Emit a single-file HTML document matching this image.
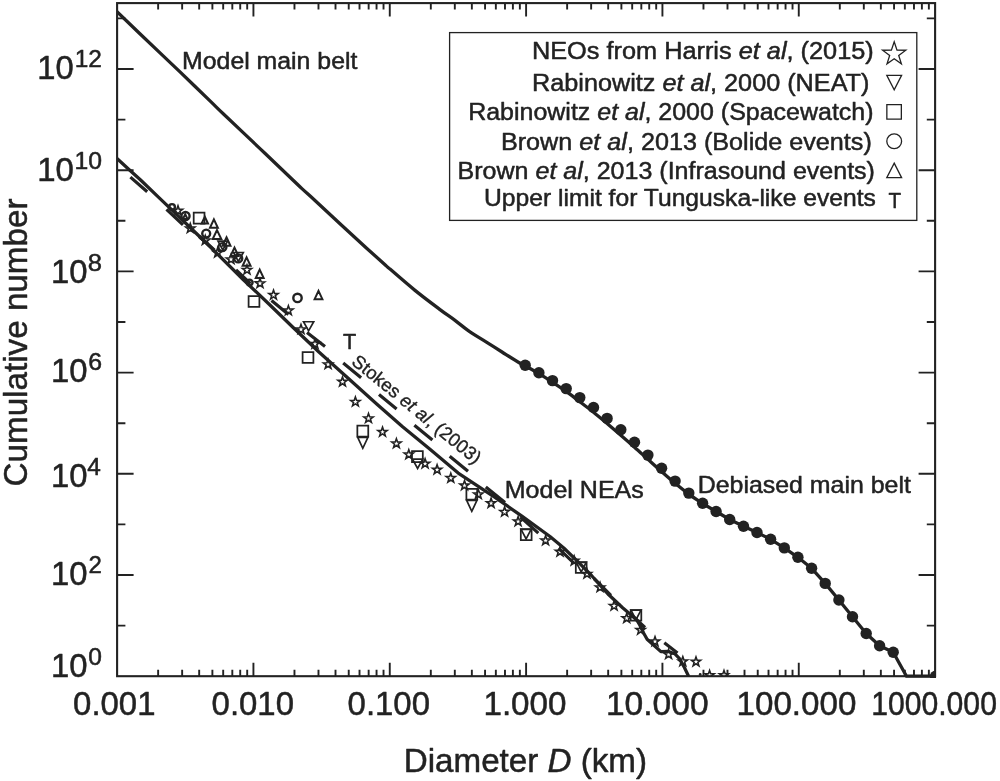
<!DOCTYPE html>
<html><head><meta charset="utf-8"><title>Cumulative number vs diameter</title>
<style>html,body{margin:0;padding:0;background:#fff;}body{width:1000px;height:781px;overflow:hidden;}svg{display:block;will-change:transform;opacity:0.999;}text{font-family:"Liberation Sans",sans-serif;fill:#222222;stroke:#222222;stroke-width:0.5px;stroke-linejoin:round;}.it{font-style:italic;}</style></head><body>
<svg width="1000" height="781" viewBox="0 0 1000 781">
<rect x="0" y="0" width="1000" height="781" fill="#fff"/>
<defs><clipPath id="plot"><rect x="117.10" y="3.10" width="819.00" height="674.80"/></clipPath><clipPath id="plot2"><rect x="117.10" y="3.10" width="818.00" height="674.00"/></clipPath></defs>
<path d="M158.14 676.20L158.14 669.80M158.14 3.10L158.14 9.50M182.15 676.20L182.15 669.80M182.15 3.10L182.15 9.50M199.18 676.20L199.18 669.80M199.18 3.10L199.18 9.50M212.39 676.20L212.39 669.80M212.39 3.10L212.39 9.50M223.19 676.20L223.19 669.80M223.19 3.10L223.19 9.50M232.32 676.20L232.32 669.80M232.32 3.10L232.32 9.50M240.22 676.20L240.22 669.80M240.22 3.10L240.22 9.50M247.20 676.20L247.20 669.80M247.20 3.10L247.20 9.50M253.43 676.20L253.43 662.70M253.43 3.10L253.43 16.60M294.47 676.20L294.47 669.80M294.47 3.10L294.47 9.50M318.48 676.20L318.48 669.80M318.48 3.10L318.48 9.50M335.51 676.20L335.51 669.80M335.51 3.10L335.51 9.50M348.73 676.20L348.73 669.80M348.73 3.10L348.73 9.50M359.52 676.20L359.52 669.80M359.52 3.10L359.52 9.50M368.65 676.20L368.65 669.80M368.65 3.10L368.65 9.50M376.55 676.20L376.55 669.80M376.55 3.10L376.55 9.50M383.53 676.20L383.53 669.80M383.53 3.10L383.53 9.50M389.77 676.20L389.77 662.70M389.77 3.10L389.77 16.60M430.81 676.20L430.81 669.80M430.81 3.10L430.81 9.50M454.81 676.20L454.81 669.80M454.81 3.10L454.81 9.50M471.85 676.20L471.85 669.80M471.85 3.10L471.85 9.50M485.06 676.20L485.06 669.80M485.06 3.10L485.06 9.50M495.85 676.20L495.85 669.80M495.85 3.10L495.85 9.50M504.98 676.20L504.98 669.80M504.98 3.10L504.98 9.50M512.89 676.20L512.89 669.80M512.89 3.10L512.89 9.50M519.86 676.20L519.86 669.80M519.86 3.10L519.86 9.50M526.10 676.20L526.10 662.70M526.10 3.10L526.10 16.60M567.14 676.20L567.14 669.80M567.14 3.10L567.14 9.50M591.15 676.20L591.15 669.80M591.15 3.10L591.15 9.50M608.18 676.20L608.18 669.80M608.18 3.10L608.18 9.50M621.39 676.20L621.39 669.80M621.39 3.10L621.39 9.50M632.19 676.20L632.19 669.80M632.19 3.10L632.19 9.50M641.32 676.20L641.32 669.80M641.32 3.10L641.32 9.50M649.22 676.20L649.22 669.80M649.22 3.10L649.22 9.50M656.20 676.20L656.20 669.80M656.20 3.10L656.20 9.50M662.43 676.20L662.43 662.70M662.43 3.10L662.43 16.60M703.47 676.20L703.47 669.80M703.47 3.10L703.47 9.50M727.48 676.20L727.48 669.80M727.48 3.10L727.48 9.50M744.51 676.20L744.51 669.80M744.51 3.10L744.51 9.50M757.73 676.20L757.73 669.80M757.73 3.10L757.73 9.50M768.52 676.20L768.52 669.80M768.52 3.10L768.52 9.50M777.65 676.20L777.65 669.80M777.65 3.10L777.65 9.50M785.55 676.20L785.55 669.80M785.55 3.10L785.55 9.50M792.53 676.20L792.53 669.80M792.53 3.10L792.53 9.50M798.77 676.20L798.77 662.70M798.77 3.10L798.77 16.60M839.81 676.20L839.81 669.80M839.81 3.10L839.81 9.50M863.81 676.20L863.81 669.80M863.81 3.10L863.81 9.50M880.85 676.20L880.85 669.80M880.85 3.10L880.85 9.50M894.06 676.20L894.06 669.80M894.06 3.10L894.06 9.50M904.85 676.20L904.85 669.80M904.85 3.10L904.85 9.50M913.98 676.20L913.98 669.80M913.98 3.10L913.98 9.50M921.89 676.20L921.89 669.80M921.89 3.10L921.89 9.50M928.86 676.20L928.86 669.80M928.86 3.10L928.86 9.50M117.10 625.60L125.40 625.60M935.10 625.60L926.80 625.60M117.10 575.00L133.60 575.00M935.10 575.00L918.60 575.00M117.10 524.40L125.40 524.40M935.10 524.40L926.80 524.40M117.10 473.80L133.60 473.80M935.10 473.80L918.60 473.80M117.10 423.20L125.40 423.20M935.10 423.20L926.80 423.20M117.10 372.60L133.60 372.60M935.10 372.60L918.60 372.60M117.10 322.00L125.40 322.00M935.10 322.00L926.80 322.00M117.10 271.40L133.60 271.40M935.10 271.40L918.60 271.40M117.10 220.80L125.40 220.80M935.10 220.80L926.80 220.80M117.10 170.20L133.60 170.20M935.10 170.20L918.60 170.20M117.10 119.60L125.40 119.60M935.10 119.60L926.80 119.60M117.10 69.00L133.60 69.00M935.10 69.00L918.60 69.00M117.10 18.40L125.40 18.40M935.10 18.40L926.80 18.40" stroke="#222222" stroke-width="1.90" fill="none"/>
<g clip-path="url(#plot)">
<path d="M113.10 7.40C113.75 8.12 109.18 4.12 117.00 11.70C124.82 19.28 149.50 42.87 160.00 52.90C170.50 62.93 171.67 63.90 180.00 71.90C188.33 79.90 202.75 93.88 210.00 100.90C217.25 107.92 215.17 106.05 223.50 114.00C231.83 121.95 248.92 138.07 260.00 148.60C271.08 159.13 282.97 170.48 290.00 177.20C297.03 183.92 298.03 185.02 302.20 188.90C306.37 192.78 308.70 194.70 315.00 200.50C321.30 206.30 331.67 216.00 340.00 223.70C348.33 231.40 357.63 239.98 365.00 246.70C372.37 253.42 380.03 260.27 384.20 264.00C388.37 267.73 384.87 264.70 390.00 269.10C395.13 273.50 406.67 283.65 415.00 290.40C423.33 297.15 433.33 304.60 440.00 309.60C446.67 314.60 450.00 316.68 455.00 320.40C460.00 324.12 464.83 328.32 470.00 331.90C475.17 335.48 480.67 338.55 486.00 341.90C491.33 345.25 496.67 348.65 502.00 352.00C507.33 355.35 514.13 359.70 518.00 362.00C521.87 364.30 521.72 363.85 525.20 365.80C528.68 367.75 534.35 370.97 538.90 373.70C543.45 376.43 547.95 379.25 552.50 382.20C557.05 385.15 561.65 388.13 566.20 391.40C570.75 394.67 575.25 398.33 579.80 401.80C584.35 405.27 588.95 408.58 593.50 412.20C598.05 415.82 602.55 419.67 607.10 423.50C611.65 427.33 616.23 431.25 620.80 435.20C625.37 439.15 629.98 443.18 634.50 447.20C639.02 451.22 643.38 455.23 647.90 459.30C652.42 463.37 657.07 467.60 661.60 471.60C666.13 475.60 670.57 479.55 675.10 483.30C679.63 487.05 684.22 490.73 688.80 494.10C693.38 497.47 700.30 501.93 702.60 503.50" stroke="#222222" stroke-width="3.3" fill="none" stroke-linejoin="round"/>
<path d="M702.60 503.50L716.10 511.50L729.70 519.50L743.50 526.30L757.00 532.50L770.60 539.30L784.30 547.90L797.90 557.30L811.60 568.30L825.20 583.40L838.90 600.00L852.50 616.70L866.20 633.50L879.60 645.70L893.20 652.20L906.50 676.20L937.10 676.20" stroke="#222222" stroke-width="3.3" fill="none" stroke-linejoin="round"/>
<circle cx="525.20" cy="365.20" r="5.7" fill="#222222"/>
<circle cx="538.90" cy="372.80" r="5.7" fill="#222222"/>
<circle cx="552.50" cy="380.60" r="5.7" fill="#222222"/>
<circle cx="566.20" cy="388.60" r="5.7" fill="#222222"/>
<circle cx="579.80" cy="397.60" r="5.7" fill="#222222"/>
<circle cx="593.50" cy="407.50" r="5.7" fill="#222222"/>
<circle cx="607.10" cy="418.40" r="5.7" fill="#222222"/>
<circle cx="620.80" cy="429.80" r="5.7" fill="#222222"/>
<circle cx="634.50" cy="442.20" r="5.7" fill="#222222"/>
<circle cx="647.90" cy="455.10" r="5.7" fill="#222222"/>
<circle cx="661.60" cy="468.30" r="5.7" fill="#222222"/>
<circle cx="675.10" cy="481.10" r="5.7" fill="#222222"/>
<circle cx="688.80" cy="493.10" r="5.7" fill="#222222"/>
<circle cx="702.60" cy="503.20" r="5.7" fill="#222222"/>
<circle cx="716.10" cy="511.50" r="5.7" fill="#222222"/>
<circle cx="729.70" cy="519.50" r="5.7" fill="#222222"/>
<circle cx="743.50" cy="526.30" r="5.7" fill="#222222"/>
<circle cx="757.00" cy="532.50" r="5.7" fill="#222222"/>
<circle cx="770.60" cy="539.30" r="5.7" fill="#222222"/>
<circle cx="784.30" cy="547.90" r="5.7" fill="#222222"/>
<circle cx="797.90" cy="557.30" r="5.7" fill="#222222"/>
<circle cx="811.60" cy="568.30" r="5.7" fill="#222222"/>
<circle cx="825.20" cy="583.40" r="5.7" fill="#222222"/>
<circle cx="838.90" cy="600.00" r="5.7" fill="#222222"/>
<circle cx="852.50" cy="616.70" r="5.7" fill="#222222"/>
<circle cx="866.20" cy="633.50" r="5.7" fill="#222222"/>
<circle cx="879.60" cy="645.70" r="5.7" fill="#222222"/>
<circle cx="893.20" cy="652.20" r="5.7" fill="#222222"/>
<circle cx="935.60" cy="676.20" r="5.7" fill="#222222"/>
<path d="M113.10 154.70L117.00 158.50L128.70 169.20L140.60 180.00L160.00 198.60L186.00 223.50L212.50 249.00L215.00 251.60L242.60 279.00L268.90 304.00L292.60 327.00L318.90 352.00L347.60 377.80L376.70 404.00L402.60 426.80L430.00 449.30L458.20 473.10L482.80 489.30L495.00 497.30L522.60 516.70L550.00 536.50L563.80 548.00L577.60 561.40L591.50 575.50L600.00 585.00L608.80 594.80L622.60 607.70L636.50 619.50L640.00 625.50L643.60 633.00L647.10 639.20L653.30 644.70L660.90 651.60L668.50 651.40L674.70 653.70L679.50 658.60L684.40 667.50L688.60 676.20" stroke="#222222" stroke-width="3.25" fill="none" stroke-linejoin="round"/>
<path d="M130.40 177.10L147.20 191.70M166.50 209.30L183.00 224.80M199.00 236.00L214.50 250.20M236.00 269.80L250.50 283.60M271.50 300.50L288.50 314.50M307.00 332.60L325.00 346.60M343.20 363.10L361.10 377.70M379.00 394.50L396.60 409.00M414.40 425.20L432.40 440.10M449.70 456.20L468.00 471.30M485.80 487.00L505.00 502.50M520.50 517.00L538.30 533.10M558.50 548.40L574.20 563.40M594.00 578.50L610.90 595.30M630.00 613.80L645.00 627.50M664.30 642.70L677.50 653.00" stroke="#222222" stroke-width="3.2" fill="none"/>
<path d="M178.00 205.80L179.15 209.11L182.66 209.19L179.86 211.31L180.88 214.66L178.00 212.66L175.12 214.66L176.14 211.31L173.34 209.19L176.85 209.11ZM190.30 223.50L191.45 226.81L194.96 226.89L192.16 229.01L193.18 232.36L190.30 230.36L187.42 232.36L188.44 229.01L185.64 226.89L189.15 226.81ZM205.30 235.50L206.45 238.81L209.96 238.89L207.16 241.01L208.18 244.36L205.30 242.36L202.42 244.36L203.44 241.01L200.64 238.89L204.15 238.81ZM217.60 247.90L218.75 251.21L222.26 251.29L219.46 253.41L220.48 256.76L217.60 254.76L214.72 256.76L215.74 253.41L212.94 251.29L216.45 251.21ZM231.00 254.50L232.15 257.81L235.66 257.89L232.86 260.01L233.88 263.36L231.00 261.36L228.12 263.36L229.14 260.01L226.34 257.89L229.85 257.81ZM247.00 265.00L248.15 268.31L251.66 268.39L248.86 270.51L249.88 273.86L247.00 271.86L244.12 273.86L245.14 270.51L242.34 268.39L245.85 268.31ZM260.00 278.50L261.15 281.81L264.66 281.89L261.86 284.01L262.88 287.36L260.00 285.36L257.12 287.36L258.14 284.01L255.34 281.89L258.85 281.81ZM273.50 290.10L274.65 293.41L278.16 293.49L275.36 295.61L276.38 298.96L273.50 296.96L270.62 298.96L271.64 295.61L268.84 293.49L272.35 293.41ZM288.40 305.70L289.55 309.01L293.06 309.09L290.26 311.21L291.28 314.56L288.40 312.56L285.52 314.56L286.54 311.21L283.74 309.09L287.25 309.01ZM301.00 324.50L302.15 327.81L305.66 327.89L302.86 330.01L303.88 333.36L301.00 331.36L298.12 333.36L299.14 330.01L296.34 327.89L299.85 327.81ZM315.00 339.10L316.15 342.41L319.66 342.49L316.86 344.61L317.88 347.96L315.00 345.96L312.12 347.96L313.14 344.61L310.34 342.49L313.85 342.41ZM328.10 359.50L329.25 362.81L332.76 362.89L329.96 365.01L330.98 368.36L328.10 366.36L325.22 368.36L326.24 365.01L323.44 362.89L326.95 362.81ZM342.50 376.90L343.65 380.21L347.16 380.29L344.36 382.41L345.38 385.76L342.50 383.76L339.62 385.76L340.64 382.41L337.84 380.29L341.35 380.21ZM355.40 397.00L356.55 400.31L360.06 400.39L357.26 402.51L358.28 405.86L355.40 403.86L352.52 405.86L353.54 402.51L350.74 400.39L354.25 400.31ZM368.50 413.50L369.65 416.81L373.16 416.89L370.36 419.01L371.38 422.36L368.50 420.36L365.62 422.36L366.64 419.01L363.84 416.89L367.35 416.81ZM382.50 427.10L383.65 430.41L387.16 430.49L384.36 432.61L385.38 435.96L382.50 433.96L379.62 435.96L380.64 432.61L377.84 430.49L381.35 430.41ZM396.40 438.70L397.55 442.01L401.06 442.09L398.26 444.21L399.28 447.56L396.40 445.56L393.52 447.56L394.54 444.21L391.74 442.09L395.25 442.01ZM408.80 449.70L409.95 453.01L413.46 453.09L410.66 455.21L411.68 458.56L408.80 456.56L405.92 458.56L406.94 455.21L404.14 453.09L407.65 453.01ZM425.10 458.80L426.25 462.11L429.76 462.19L426.96 464.31L427.98 467.66L425.10 465.66L422.22 467.66L423.24 464.31L420.44 462.19L423.95 462.11ZM437.10 464.80L438.25 468.11L441.76 468.19L438.96 470.31L439.98 473.66L437.10 471.66L434.22 473.66L435.24 470.31L432.44 468.19L435.95 468.11ZM450.80 473.20L451.95 476.51L455.46 476.59L452.66 478.71L453.68 482.06L450.80 480.06L447.92 482.06L448.94 478.71L446.14 476.59L449.65 476.51ZM464.50 480.60L465.65 483.91L469.16 483.99L466.36 486.11L467.38 489.46L464.50 487.46L461.62 489.46L462.64 486.11L459.84 483.99L463.35 483.91ZM478.30 489.50L479.45 492.81L482.96 492.89L480.16 495.01L481.18 498.36L478.30 496.36L475.42 498.36L476.44 495.01L473.64 492.89L477.15 492.81ZM491.10 498.30L492.25 501.61L495.76 501.69L492.96 503.81L493.98 507.16L491.10 505.16L488.22 507.16L489.24 503.81L486.44 501.69L489.95 501.61ZM504.60 507.00L505.75 510.31L509.26 510.39L506.46 512.51L507.48 515.86L504.60 513.86L501.72 515.86L502.74 512.51L499.94 510.39L503.45 510.31ZM518.10 516.60L519.25 519.91L522.76 519.99L519.96 522.11L520.98 525.46L518.10 523.46L515.22 525.46L516.24 522.11L513.44 519.99L516.95 519.91ZM545.60 535.70L546.75 539.01L550.26 539.09L547.46 541.21L548.48 544.56L545.60 542.56L542.72 544.56L543.74 541.21L540.94 539.09L544.45 539.01ZM560.00 546.90L561.15 550.21L564.66 550.29L561.86 552.41L562.88 555.76L560.00 553.76L557.12 555.76L558.14 552.41L555.34 550.29L558.85 550.21ZM574.20 555.90L575.35 559.21L578.86 559.29L576.06 561.41L577.08 564.76L574.20 562.76L571.32 564.76L572.34 561.41L569.54 559.29L573.05 559.21ZM587.00 569.00L588.15 572.31L591.66 572.39L588.86 574.51L589.88 577.86L587.00 575.86L584.12 577.86L585.14 574.51L582.34 572.39L585.85 572.31ZM600.10 582.50L601.25 585.81L604.76 585.89L601.96 588.01L602.98 591.36L600.10 589.36L597.22 591.36L598.24 588.01L595.44 585.89L598.95 585.81ZM614.10 601.00L615.25 604.31L618.76 604.39L615.96 606.51L616.98 609.86L614.10 607.86L611.22 609.86L612.24 606.51L609.44 604.39L612.95 604.31ZM626.70 613.40L627.85 616.71L631.36 616.79L628.56 618.91L629.58 622.26L626.70 620.26L623.82 622.26L624.84 618.91L622.04 616.79L625.55 616.71ZM640.60 625.10L641.75 628.41L645.26 628.49L642.46 630.61L643.48 633.96L640.60 631.96L637.72 633.96L638.74 630.61L635.94 628.49L639.45 628.41ZM655.00 636.60L656.15 639.91L659.66 639.99L656.86 642.11L657.88 645.46L655.00 643.46L652.12 645.46L653.14 642.11L650.34 639.99L653.85 639.91ZM668.60 649.50L669.75 652.81L673.26 652.89L670.46 655.01L671.48 658.36L668.60 656.36L665.72 658.36L666.74 655.01L663.94 652.89L667.45 652.81ZM682.80 656.60L683.95 659.91L687.46 659.99L684.66 662.11L685.68 665.46L682.80 663.46L679.92 665.46L680.94 662.11L678.14 659.99L681.65 659.91ZM696.00 656.90L697.15 660.21L700.66 660.29L697.86 662.41L698.88 665.76L696.00 663.76L693.12 665.76L694.14 662.41L691.34 660.29L694.85 660.21ZM709.60 670.40L710.75 673.71L714.26 673.79L711.46 675.91L712.48 679.26L709.60 677.26L706.72 679.26L707.74 675.91L704.94 673.79L708.45 673.71ZM724.00 670.40L725.15 673.71L728.66 673.79L725.86 675.91L726.88 679.26L724.00 677.26L721.12 679.26L722.14 675.91L719.34 673.79L722.85 673.71Z" stroke="#222222" stroke-width="1.6" fill="none" stroke-linejoin="miter" clip-path="url(#plot2)"/>
<circle cx="700.2" cy="674.4" r="1.4" fill="#222222"/>
<path d="M193.70 212.70h10.80v10.80h-10.80ZM248.60 296.10h10.80v10.80h-10.80ZM302.60 352.10h10.80v10.80h-10.80ZM357.35 425.65h10.90v10.90h-10.90ZM412.00 451.20h10.80v10.80h-10.80ZM466.40 488.80h10.80v10.80h-10.80ZM520.80 529.20h10.80v10.80h-10.80ZM575.80 562.10h10.80v10.80h-10.80ZM630.70 610.00h10.60v10.60h-10.60Z" stroke="#222222" stroke-width="1.75" fill="none"/>
<path d="M218.00 241.20L227.60 241.20L222.80 250.00ZM233.50 252.50L243.30 252.50L238.40 261.50ZM303.50 321.75L313.70 321.75L308.60 330.85ZM357.80 437.50L367.80 437.50L362.80 448.30ZM412.50 459.20L422.70 459.20L417.60 468.40ZM466.65 500.45L476.95 500.45L471.80 511.35ZM521.10 529.40L531.10 529.40L526.10 539.00ZM576.20 562.30L586.20 562.30L581.20 571.90ZM631.00 610.10L641.00 610.10L636.00 619.70Z" stroke="#222222" stroke-width="1.7" fill="none"/>
<circle cx="172.00" cy="207.00" r="2.90" stroke="#222222" stroke-width="2.4" fill="none"/>
<circle cx="185.50" cy="216.00" r="4.05" stroke="#222222" stroke-width="2.4" fill="none"/>
<circle cx="206.20" cy="233.60" r="3.95" stroke="#222222" stroke-width="2.4" fill="none"/>
<circle cx="222.40" cy="247.10" r="4.00" stroke="#222222" stroke-width="2.4" fill="none"/>
<circle cx="238.20" cy="258.40" r="4.00" stroke="#222222" stroke-width="2.4" fill="none"/>
<circle cx="249.60" cy="282.60" r="3.00" stroke="#222222" stroke-width="2.4" fill="none"/>
<circle cx="297.50" cy="297.90" r="4.20" stroke="#222222" stroke-width="2.4" fill="none"/>
<path d="M185.20 214.20L187.50 219.00L182.90 219.00ZM204.80 216.80L208.00 223.60L201.60 223.60ZM213.90 219.40L217.85 227.80L209.95 227.80ZM217.00 230.10L221.30 239.10L212.70 239.10ZM226.50 237.30L230.45 245.70L222.55 245.70ZM234.50 247.60L238.45 256.00L230.55 256.00ZM246.60 257.40L250.55 265.80L242.65 265.80ZM259.70 269.60L263.65 278.00L255.75 278.00ZM318.50 290.80L322.40 299.20L314.60 299.20Z" stroke="#222222" stroke-width="2.0" fill="none"/>
</g>
<rect x="117.10" y="3.10" width="818.00" height="673.10" fill="none" stroke="#222222" stroke-width="2.1"/>
<text id="xl0" transform="translate(73.074 715.00) scale(0.9864 1)" font-size="33.40">0.001</text>
<text id="xl1" transform="translate(211.601 715.00) scale(0.9860 1)" font-size="33.40">0.010</text>
<text id="xl2" transform="translate(347.601 715.00) scale(0.9860 1)" font-size="33.40">0.100</text>
<text id="xl3" transform="translate(483.424 715.00) scale(0.9944 1)" font-size="33.40">1.000</text>
<text id="xl4" transform="translate(605.928 715.00) scale(1.0056 1)" font-size="33.40">10.000</text>
<text id="xl5" transform="translate(736.591 715.00) scale(0.9920 1)" font-size="33.40">100.000</text>
<text id="xl6" transform="translate(871.137 715.00) scale(0.9031 1)" font-size="33.40">1000.000</text>
<text id="y12" transform="translate(37.265 79.15) scale(0.9801 1)" font-size="33.40">10</text>
<text id="ys12" transform="translate(74.632 67.15) scale(1.0066 1)" font-size="24.30">12</text>
<text id="y10" transform="translate(37.217 180.70) scale(0.9890 1)" font-size="33.40">10</text>
<text id="ys10" transform="translate(74.445 168.70) scale(1.0181 1)" font-size="24.30">10</text>
<text id="y8" transform="translate(51.080 283.00) scale(0.9834 1)" font-size="33.40">10</text>
<text id="ys8" transform="translate(87.699 271.00) scale(1.0530 1)" font-size="24.30">8</text>
<text id="y6" transform="translate(51.080 382.30) scale(0.9834 1)" font-size="33.40">10</text>
<text id="ys6" transform="translate(88.126 370.30) scale(1.0238 1)" font-size="24.30">6</text>
<text id="y4" transform="translate(51.080 487.00) scale(0.9834 1)" font-size="33.40">10</text>
<text id="ys4" transform="translate(87.368 475.00) scale(1.0038 1)" font-size="24.30">4</text>
<text id="y2" transform="translate(51.080 585.00) scale(0.9834 1)" font-size="33.40">10</text>
<text id="ys2" transform="translate(88.542 573.00) scale(0.9876 1)" font-size="24.30">2</text>
<text id="y0" transform="translate(51.080 677.10) scale(0.9834 1)" font-size="33.40">10</text>
<text id="ys0" transform="translate(88.257 665.10) scale(1.0111 1)" font-size="24.30">0</text>
<text id="xt" transform="translate(403.777 771.80) scale(0.9877 1)" font-size="33.60">Diameter <tspan class="it">D</tspan> (km)</text>
<text transform="translate(27.1 486.5) rotate(-90) scale(0.998 1)" font-size="33.3" id="yt">Cumulative number</text>
<text id="a1" transform="translate(182.083 69.20) scale(1.0143 1)" font-size="24.50">Model main belt</text>
<text id="a2" transform="translate(504.759 498.30) scale(1.0212 1)" font-size="24.50">Model NEAs</text>
<text id="a3" transform="translate(697.739 492.80) scale(1.0170 1)" font-size="24.50">Debiased main belt</text>
<text id="a4" transform="translate(343.110 349.00) scale(1.0027 1)" font-size="21.60">T</text>
<text transform="translate(350.6 363.4) rotate(39.2)" font-size="18.5" id="a5" style="stroke-width:0.35px">Stokes <tspan class="it">et al</tspan>, (2003)</text>
<rect x="449.6" y="32.6" width="467.2" height="187.8" fill="#fff" stroke="#222222" stroke-width="1.3"/>
<text id="lg0" transform="translate(531.928 59.40) scale(1.0256 1)" font-size="24.70">NEOs from Harris <tspan class="it">et al</tspan>, (2015)</text>
<text id="lg1" transform="translate(532.043 90.50) scale(1.0217 1)" font-size="24.70">Rabinowitz <tspan class="it">et al</tspan>, 2000 (NEAT)</text>
<text id="lg2" transform="translate(468.183 120.00) scale(1.0116 1)" font-size="24.70">Rabinowitz <tspan class="it">et al</tspan>, 2000 (Spacewatch)</text>
<text id="lg3" transform="translate(500.935 150.40) scale(1.0196 1)" font-size="24.70">Brown <tspan class="it">et al</tspan>, 2013 (Bolide events)</text>
<text id="lg4" transform="translate(457.580 179.30) scale(1.0136 1)" font-size="24.70">Brown <tspan class="it">et al</tspan>, 2013 (Infrasound events)</text>
<text id="lg5" transform="translate(483.935 205.70) scale(0.9988 1)" font-size="24.70">Upper limit for Tunguska-like events</text>
<path d="M894.20 41.80L897.00 50.15L905.80 50.23L898.73 55.47L901.37 63.87L894.20 58.76L887.03 63.87L889.67 55.47L882.60 50.23L891.40 50.15Z" stroke="#222222" stroke-width="1.30" fill="none"/>
<path d="M886.80 75.30L901.60 75.30L894.20 89.90Z" stroke="#222222" stroke-width="1.30" fill="none"/>
<path d="M886.85 104.55h14.50v14.50h-14.50Z" stroke="#222222" stroke-width="1.30" fill="none"/>
<circle cx="894.2" cy="141.3" r="7.4" stroke="#222222" stroke-width="1.30" fill="none"/>
<path d="M894.20 163.10L901.60 177.70L886.80 177.70Z" stroke="#222222" stroke-width="1.30" fill="none"/>
<text id="lt" transform="translate(888.378 208.20) scale(0.9281 1)" font-size="22.20">T</text>
</svg></body></html>
